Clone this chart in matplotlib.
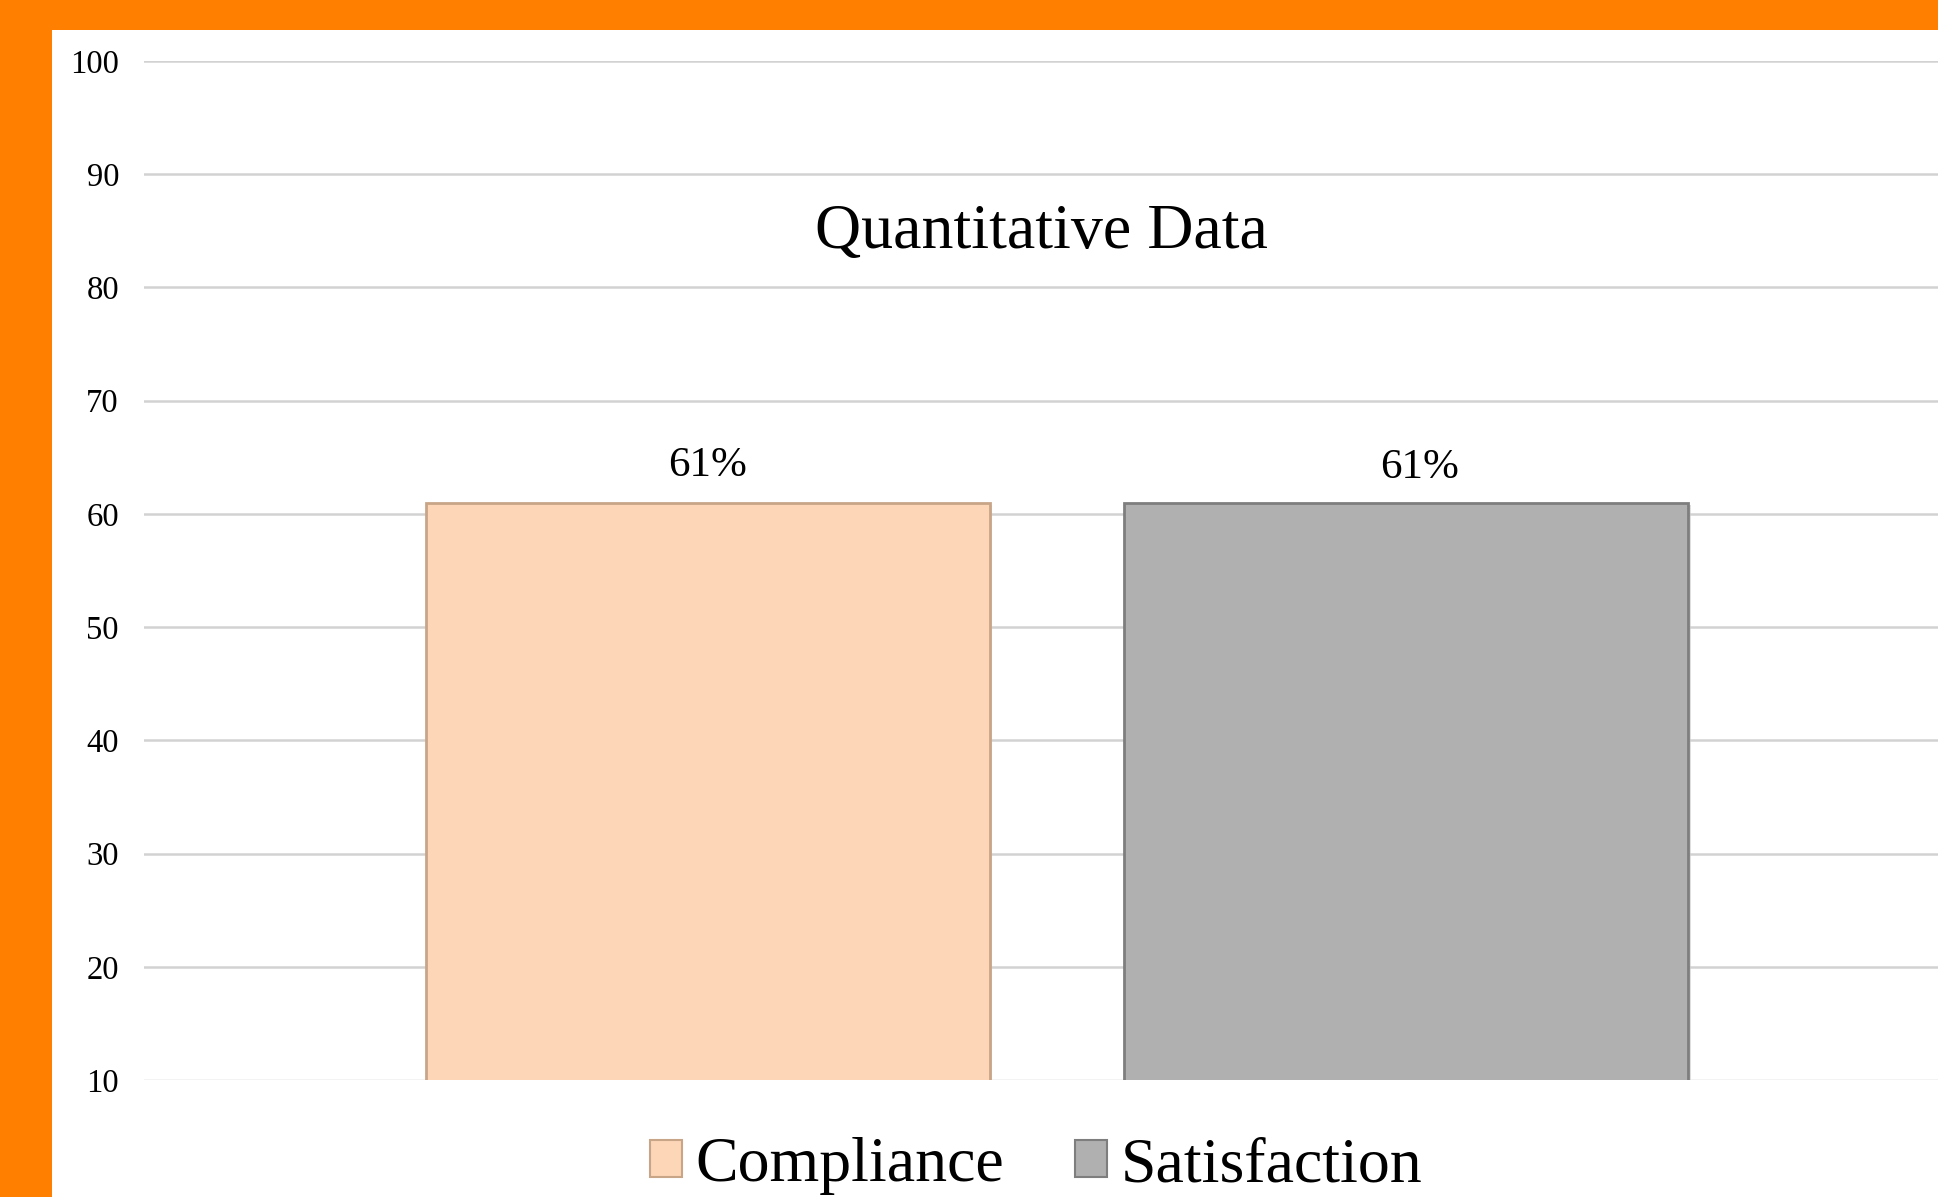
import matplotlib
matplotlib.use("Agg")
import matplotlib.pyplot as plt
import matplotlib.patches as mpatches
import matplotlib.patheffects as pe

categories = ["Compliance", "Satisfaction"]
values = [61, 61]
labels = ["61%", "61%"]
yticks = [10, 20, 30, 40, 50, 60, 70, 80, 90, 100]
title = "Quantitative Data"

fills = ["#FDD6B8", "#B0B0B0"]
edges = ["#C9A588", "#7E7E7E"]

plt.rcParams['font.family'] = ['Liberation Serif', 'DejaVu Serif']

W, H = 1938, 1197
fig = plt.figure(figsize=(W / 100, H / 100), dpi=100)
fig.patch.set_facecolor("white")

# orange frame (top and left)
fig.add_artist(mpatches.Rectangle((0, 1 - 30 / H), 1, 30 / H, transform=fig.transFigure,
                                  facecolor="#FF8000", edgecolor="none", zorder=0))
fig.add_artist(mpatches.Rectangle((0, 0), 52 / W, 1, transform=fig.transFigure,
                                  facecolor="#FF8000", edgecolor="none", zorder=0))

ax_left = 144 / W
ax_bottom = (H - 1080) / H
ax_top = (H - 61) / H
ax = fig.add_axes([ax_left, ax_bottom, 1 - ax_left, ax_top - ax_bottom])
ax.set_facecolor("none")

x = list(range(len(categories)))
bars = ax.bar(x, values, width=0.807, bottom=0, color=fills, edgecolor=edges,
              linewidth=2.0, zorder=3)
for b in bars:
    b.set_path_effects([pe.SimplePatchShadow(offset=(2, -2), shadow_rgbFace="#C8C8C8", alpha=0.6),
                        pe.Normal()])

ax.set_ylim(10, 100)
ax.set_xlim(-0.808, 1.762)
ax.set_yticks(yticks)
ax.set_yticklabels([str(t) for t in yticks], fontsize=23.5)
ax.tick_params(axis="y", length=0, pad=18)
ax.set_xticks([])
for s in ax.spines.values():
    s.set_visible(False)
ax.yaxis.grid(True, color="#D2D2D2", linewidth=1.8, zorder=0)
ax.set_axisbelow(True)
gl = ax.get_ygridlines()
gl[0].set_color("#F0F0F0")

label_dx = [0, 10]
label_dy = [13, 11]
for xi, v, lab, dx, dy in zip(x, values, labels, label_dx, label_dy):
    ax.annotate(lab, (xi, v), xytext=(dx, dy), textcoords="offset points",
                ha="center", va="bottom", fontsize=31)

ax.text(0.5, 0.816, title, transform=ax.transAxes, ha="center",
        va="baseline", fontsize=46)

handles = [mpatches.Patch(facecolor=f, edgecolor=e, linewidth=1.5) for f, e in zip(fills, edges)]
leg = fig.legend(handles, categories, loc="center", bbox_to_anchor=(1036 / W, 1 - 1166 / H),
                 ncol=2, frameon=False, fontsize=46, handlelength=0.5, handleheight=0.5,
                 handletextpad=0.22, columnspacing=1.1)

fig.savefig("out.png", dpi=100)
